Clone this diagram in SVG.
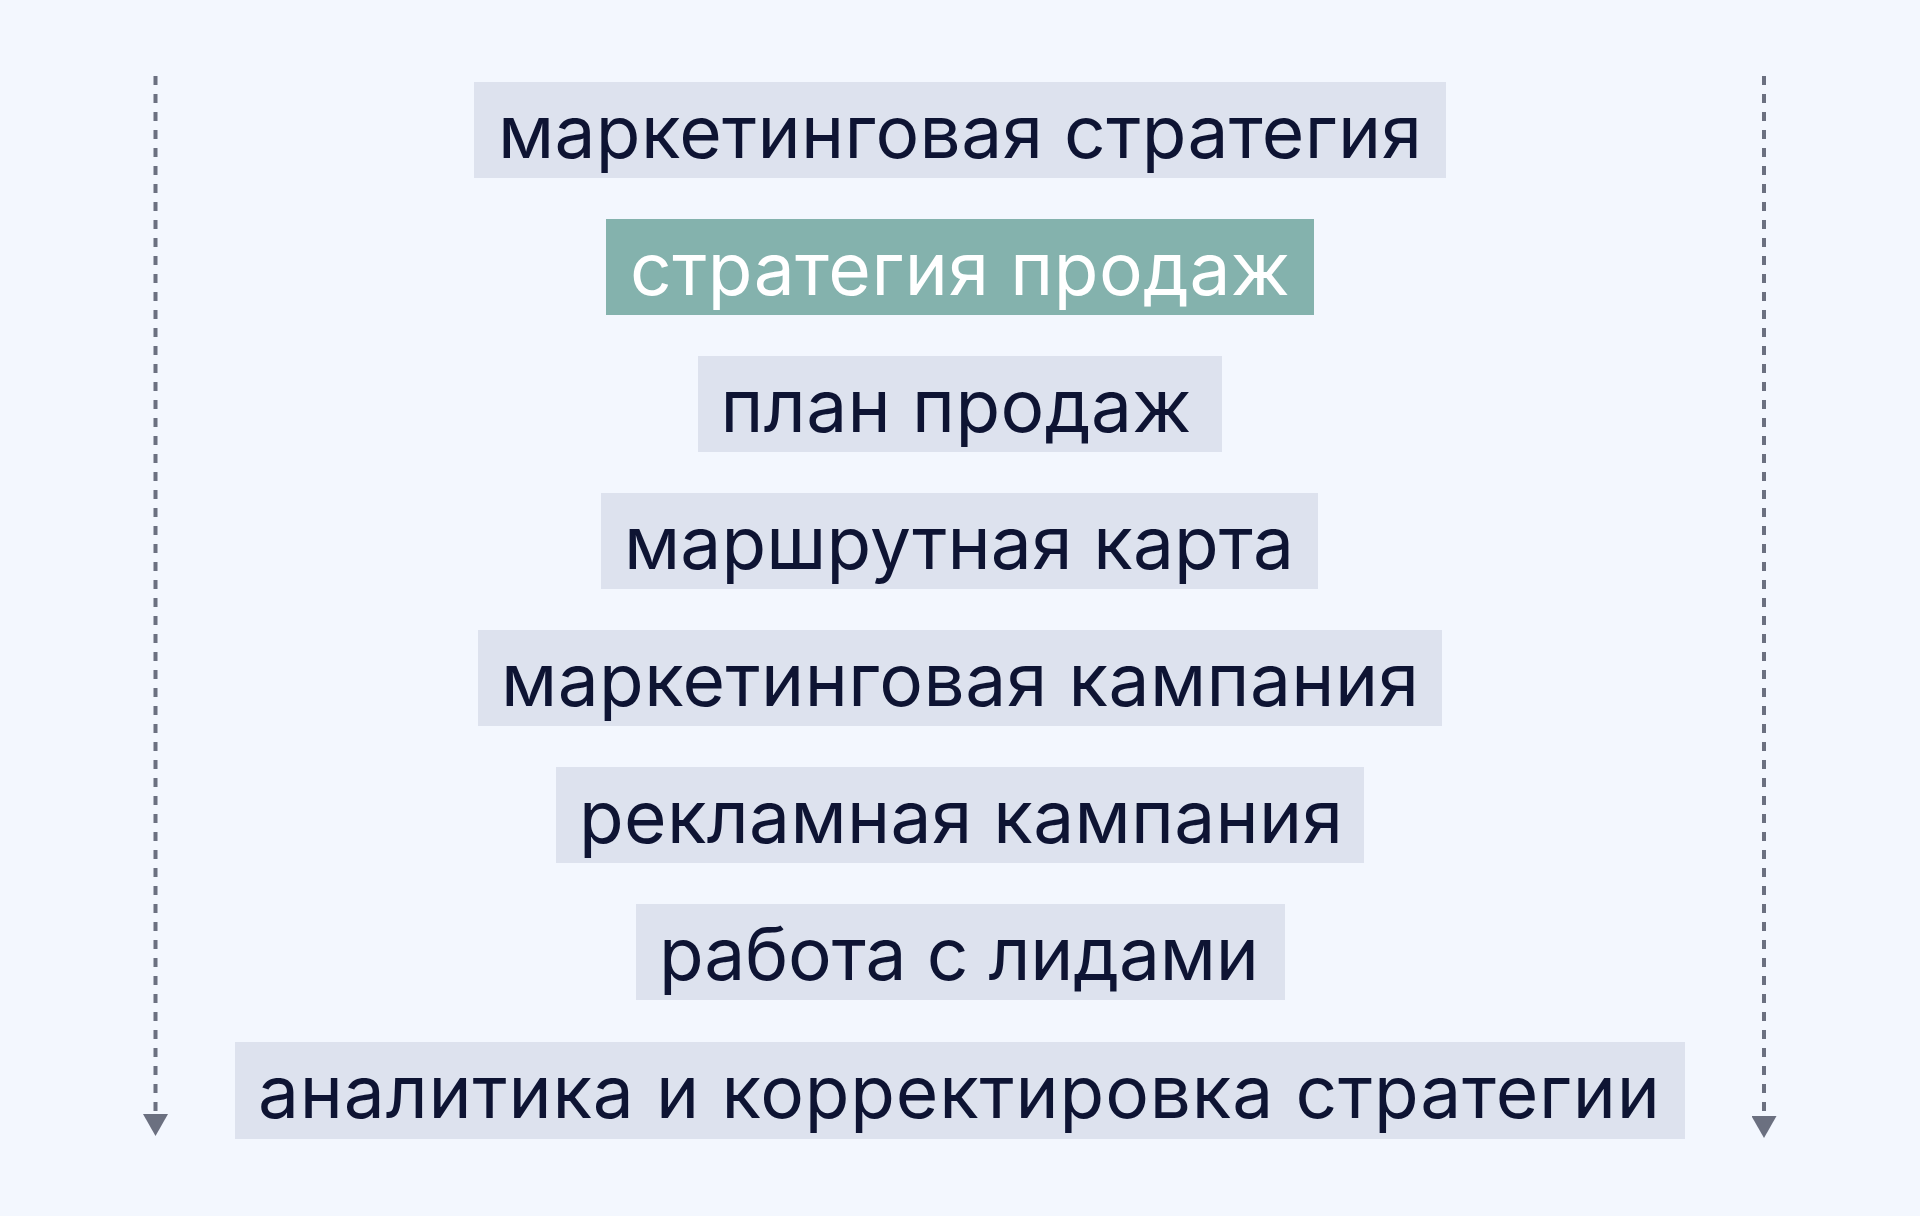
<svg xmlns="http://www.w3.org/2000/svg" width="1920" height="1216" viewBox="0 0 1920 1216">
<style>
.bg{fill:#F3F7FE}
.box{fill:#DDE2EE}
.hl{fill:#84B2AD}
.t{font-family:Inter,"Noto Sans","Liberation Sans",sans-serif;font-size:73px;fill:#0E1433;text-anchor:middle}
.tw{fill:#FFFFFF}
.dash{stroke:#6B7080;stroke-width:4;stroke-dasharray:9 9;fill:none}
</style>
<defs>
<marker id="ah" viewBox="0 0 22 25" refX="0" refY="12.5" markerWidth="22" markerHeight="25" markerUnits="userSpaceOnUse" orient="auto">
<path d="M0,0 L22,12.5 L0,25 Z" fill="#6B7080"/>
</marker>
</defs>
<rect class="bg" x="0" y="0" width="1920" height="1216"/>
<g id="connectors">
<path class="dash" d="M155.5,76 L155.5,1114" marker-end="url(#ah)"/>
<path class="dash" d="M1764,76 L1764,1116" marker-end="url(#ah)"/>
</g>
<g id="n1"><rect class="box" x="474" y="82" width="972" height="96"/><text class="t" x="960" y="158" textLength="924" lengthAdjust="spacing">маркетинговая стратегия</text></g>
<g id="n2"><rect class="hl" x="606" y="219" width="708" height="96"/><text class="t tw" x="960" y="295" textLength="660" lengthAdjust="spacing">стратегия продаж</text></g>
<g id="n3"><rect class="box" x="698" y="356" width="524" height="96"/><text class="t" x="956" y="432" textLength="471" lengthAdjust="spacing">план продаж</text></g>
<g id="n4"><rect class="box" x="601" y="493" width="717" height="96"/><text class="t" x="959" y="569" textLength="670" lengthAdjust="spacing">маршрутная карта</text></g>
<g id="n5"><rect class="box" x="478" y="630" width="964" height="96"/><text class="t" x="960" y="706" textLength="918" lengthAdjust="spacing">маркетинговая кампания</text></g>
<g id="n6"><rect class="box" x="556" y="767" width="808" height="96"/><text class="t" x="961" y="843" textLength="764" lengthAdjust="spacing">рекламная кампания</text></g>
<g id="n7"><rect class="box" x="636" y="904" width="649" height="96"/><text class="t" x="959" y="980" textLength="600" lengthAdjust="spacing">работа с лидами</text></g>
<g id="n8"><rect class="box" x="235" y="1042" width="1450" height="97"/><text class="t" x="959" y="1118" textLength="1402" lengthAdjust="spacing">аналитика и корректировка стратегии</text></g>
</svg>
